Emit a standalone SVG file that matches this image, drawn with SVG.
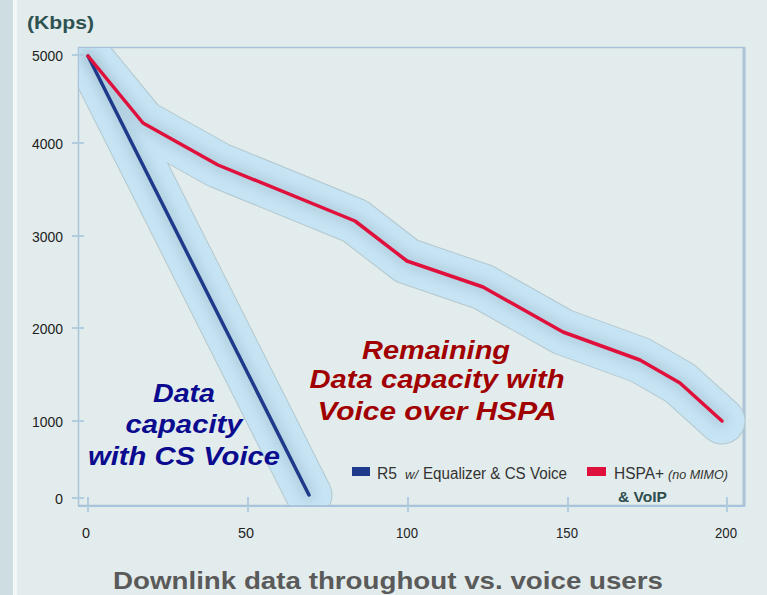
<svg xmlns="http://www.w3.org/2000/svg" width="767" height="595" viewBox="0 0 767 595">
<style>
.ax{font-family:"Liberation Sans",Arial,sans-serif;font-size:15px;fill:#222}
.lg{font-family:"Liberation Sans",Arial,sans-serif;fill:#333}
.blue{font-family:"Liberation Sans",Arial,sans-serif;font-weight:bold;font-style:italic;font-size:25px;fill:#0b0b8f}
.red{font-family:"Liberation Sans",Arial,sans-serif;font-weight:bold;font-style:italic;font-size:25px;fill:#a10000}
.tick{stroke:#b3cde0;stroke-width:2}
.glowEdge{fill:none;stroke:#b3c8cf;stroke-width:47;stroke-linejoin:round;stroke-linecap:round}
.glow{fill:none;stroke:#c6e4f4;stroke-width:45;stroke-linejoin:round;stroke-linecap:round}
.core{fill:none;stroke:#9fbccb;stroke-width:14;stroke-linejoin:round;stroke-linecap:round;opacity:0.5}
</style>
<defs>
<clipPath id="plot"><rect x="79" y="48" width="666" height="457"/></clipPath>
<filter id="blur" x="-20%" y="-20%" width="140%" height="140%"><feGaussianBlur stdDeviation="6"/></filter>
<path id="redLine" d="M88,56 L143,123 L218,165 L355,221 L407,261 L483,287 L563,332 L640,360 L680,383 L722,421"/>
<path id="blueLine" d="M88,56 L309,495"/>
</defs>
<rect x="0" y="0" width="767" height="595" fill="#e3ecec"/>
<rect x="0" y="0" width="13" height="595" fill="#cddde1"/>
<rect x="13" y="0" width="4" height="595" fill="#f1f6f6"/>
<g id="title"><text x="27" y="29" font-family="Liberation Sans,Arial,sans-serif" font-weight="bold" font-size="18" fill="#2e5252" textLength="67" lengthAdjust="spacingAndGlyphs">(Kbps)</text></g>
<g id="frame">
<rect x="78.5" y="47.5" width="666" height="458" fill="none" stroke="#a9c3d8" stroke-width="1.5"/>
<line x1="744" y1="47" x2="744" y2="506" stroke="#aec4d6" stroke-width="3"/>
<line x1="78" y1="506" x2="745" y2="506" stroke="#a8c4dc" stroke-width="2"/>
</g>
<g id="glow" clip-path="url(#plot)">
<use href="#blueLine" class="glowEdge"/><use href="#redLine" class="glowEdge"/>
<use href="#blueLine" class="glow"/><use href="#redLine" class="glow"/>
<g filter="url(#blur)"><use href="#blueLine" class="core"/><use href="#redLine" class="core"/></g>
</g>
<g id="axes">
<g class="tick">
<line x1="72" y1="55" x2="84" y2="55"/><line x1="72" y1="143" x2="84" y2="143"/><line x1="72" y1="236" x2="84" y2="236"/><line x1="72" y1="328" x2="84" y2="328"/><line x1="72" y1="421" x2="84" y2="421"/><line x1="72" y1="498" x2="84" y2="498"/>
<line x1="88" y1="497" x2="88" y2="512"/><line x1="248" y1="497" x2="248" y2="512"/><line x1="408" y1="497" x2="408" y2="512"/><line x1="568" y1="497" x2="568" y2="512"/><line x1="727" y1="497" x2="727" y2="512"/>
</g>
<g class="ax">
<text x="32" y="61" textLength="31" lengthAdjust="spacingAndGlyphs">5000</text><text x="32" y="149" textLength="31" lengthAdjust="spacingAndGlyphs">4000</text><text x="32" y="242" textLength="31" lengthAdjust="spacingAndGlyphs">3000</text><text x="32" y="334" textLength="31" lengthAdjust="spacingAndGlyphs">2000</text><text x="32" y="427" textLength="31" lengthAdjust="spacingAndGlyphs">1000</text><text x="55" y="504" textLength="8" lengthAdjust="spacingAndGlyphs">0</text>
</g>
<g class="ax">
<text x="82" y="538" textLength="8" lengthAdjust="spacingAndGlyphs">0</text><text x="238" y="538" textLength="16" lengthAdjust="spacingAndGlyphs">50</text><text x="396" y="538" textLength="22" lengthAdjust="spacingAndGlyphs">100</text><text x="556" y="538" textLength="22" lengthAdjust="spacingAndGlyphs">150</text><text x="715" y="538" textLength="22" lengthAdjust="spacingAndGlyphs">200</text>
</g>
</g>
<g id="series">
<use href="#blueLine" fill="none" stroke="#1f3a8a" stroke-width="3.5" stroke-linecap="round"/>
<use href="#redLine" fill="none" stroke="#e0103c" stroke-width="3.5" stroke-linejoin="round" stroke-linecap="round"/>
</g>
<g id="label-cs">
<text class="blue" x="184" y="402" text-anchor="middle" textLength="62" lengthAdjust="spacingAndGlyphs">Data</text>
<text class="blue" x="184" y="433" text-anchor="middle" textLength="117" lengthAdjust="spacingAndGlyphs">capacity</text>
<text class="blue" x="184" y="465" text-anchor="middle" textLength="192" lengthAdjust="spacingAndGlyphs">with CS Voice</text>
</g>
<g id="label-hspa">
<text class="red" x="436" y="359" text-anchor="middle" textLength="148" lengthAdjust="spacingAndGlyphs">Remaining</text>
<text class="red" x="437" y="388" text-anchor="middle" textLength="255" lengthAdjust="spacingAndGlyphs">Data capacity with</text>
<text class="red" x="437" y="420" text-anchor="middle" textLength="239" lengthAdjust="spacingAndGlyphs">Voice over HSPA</text>
</g>
<g id="legend">
<rect x="352" y="467" width="18" height="9" fill="#1f3a8a"/>
<text class="lg" x="377" y="479" font-size="16" textLength="20" lengthAdjust="spacingAndGlyphs">R5</text>
<text class="lg" x="405" y="479" font-size="12" font-style="italic" textLength="13" lengthAdjust="spacingAndGlyphs">w/</text>
<text class="lg" x="423" y="479" font-size="16" textLength="144" lengthAdjust="spacingAndGlyphs">Equalizer &amp; CS Voice</text>
<rect x="587" y="467" width="19" height="9" fill="#e0103c"/>
<text class="lg" x="614" y="479" font-size="16" textLength="50" lengthAdjust="spacingAndGlyphs">HSPA+</text>
<text class="lg" x="668" y="479" font-size="12" font-style="italic" textLength="60" lengthAdjust="spacingAndGlyphs">(no MIMO)</text>
<text x="618" y="502" font-family="Liberation Sans,Arial,sans-serif" font-weight="bold" font-size="15.5" fill="#2f4f4f" textLength="49" lengthAdjust="spacingAndGlyphs">&amp; VoIP</text>
</g>
<g id="caption"><text x="388" y="589" text-anchor="middle" font-family="Liberation Sans,Arial,sans-serif" font-weight="bold" font-size="24" fill="#5a5a5a" textLength="550" lengthAdjust="spacingAndGlyphs">Downlink data throughout vs. voice users</text></g>
</svg>
